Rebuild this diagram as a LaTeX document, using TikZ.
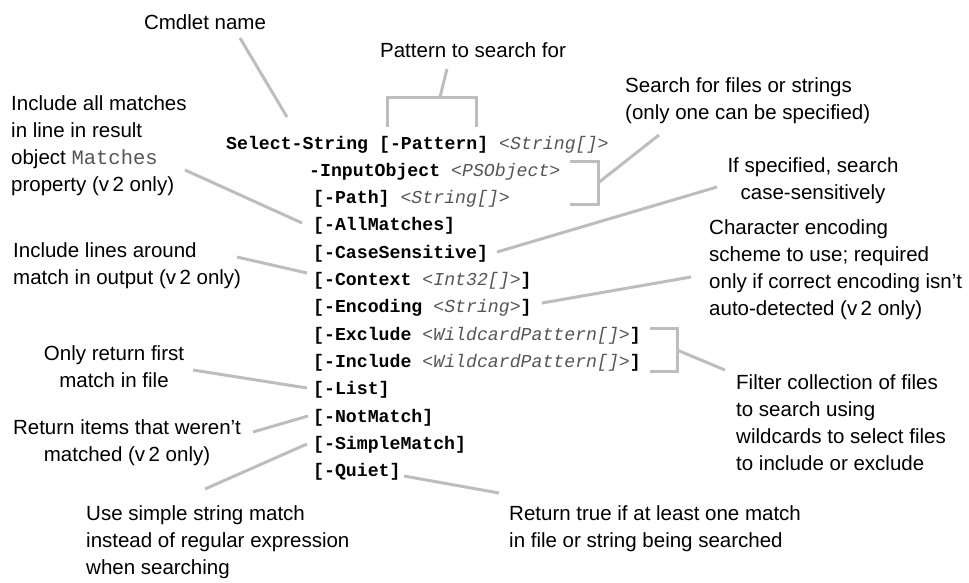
\documentclass[tikz,border=0pt]{standalone}
\usepackage{fontspec}
\setmainfont{Liberation Sans}
\newfontfamily\codefont{Liberation Mono}
\definecolor{leadgray}{HTML}{BDBDBD}
\definecolor{arggray}{HTML}{555555}
\newcommand{\argt}[1]{{\mdseries\itshape\color{arggray}#1}}
\newcommand{\inlinecode}[1]{{\codefont\color{arggray}#1}}
\tikzset{
  note/.style={font=\fontsize{20.5}{27}\selectfont, inner sep=0pt, align=left, anchor=north west},
  notec/.style={font=\fontsize{20.5}{27}\selectfont, inner sep=0pt, align=center, anchor=north},
  code/.style={font=\codefont\bfseries\fontsize{18.2}{22}\selectfont, inner sep=0pt, anchor=base west},
  lead/.style={draw=leadgray, line width=3pt},
}
\begin{document}
\begin{tikzpicture}[x=1pt,y=-1pt]
\useasboundingbox (0,0) rectangle (969,582);
% code lines
\node[code] (sel)  at (226,149) {Select-String [-Pattern] \argt{<String[]>}};
\node[code] (inp)  at (309,176.3) {-InputObject \argt{<PSObject>}};
\node[code] (path) at (313,203.6) {[-Path] \argt{<String[]>}};
\node[code] (allm) at (313,230.9) {[-AllMatches]};
\node[code] (case) at (313,258.2) {[-CaseSensitive]};
\node[code] (ctx)  at (313,285.5) {[-Context \argt{<Int32[]>}]};
\node[code] (enc)  at (313,312.8) {[-Encoding \argt{<String>}]};
\node[code] (exc)  at (313,340.1) {[-Exclude \argt{<WildcardPattern[]>}]};
\node[code] (inc)  at (313,367.4) {[-Include \argt{<WildcardPattern[]>}]};
\node[code] (list) at (313,394.7) {[-List]};
\node[code] (notm) at (313,422) {[-NotMatch]};
\node[code] (simp) at (313,449.3) {[-SimpleMatch]};
\node[code] (quiet) at (313,476.6) {[-Quiet]};
% annotations
\node[notec] (n1) at (205,14) {Cmdlet name};
\node[notec] (n2) at (473,42) {Pattern to search for};
\node[note] (n3) at (625,77) {Search for files or strings\\(only one can be specified)};
\node[note] (n4) at (11,95) {Include all matches\\in line in result\\object \inlinecode{Matches}\\property (v\,2 only)};
\node[notec] (n5) at (813,157) {If specified, search\\case-sensitively};
\node[note] (n6) at (709,219) {Character encoding\\scheme to use; required\\only if correct encoding isn’t\\auto-detected (v\,2 only)};
\node[note] (n7) at (13,242) {Include lines around\\match in output (v\,2 only)};
\node[notec] (n8) at (114,345) {Only return first\\match in file};
\node[note] (n9) at (736,374) {Filter collection of files\\to search using\\wildcards to select files\\to include or exclude};
\node[notec] (n10) at (127,419) {Return items that weren’t\\matched (v\,2 only)};
\node[note] (n11) at (86,505) {Use simple string match\\instead of regular expression\\when searching};
\node[note] (n12) at (509,505) {Return true if at least one match\\in file or string being searched};
% brackets
\coordinate (pb) at (440,97);
\coordinate (fb) at (598,183);
\coordinate (wb) at (677,350);
\draw[lead] (387,127) -- (387,97) -- (476,97) -- (476,127);
\draw[lead] (570,161) -- (598,161) -- (598,204) -- (570,204);
\draw[lead] (650,328) -- (677,328) -- (677,371) -- (650,371);
% leader ends
\coordinate (c1a) at (240,38);   \coordinate (c1b) at (287,117);
\coordinate (c2a) at (447,69);
\coordinate (c3a) at (659,135);
\coordinate (c4a) at (185,170);  \coordinate (c4b) at (302,223);
\coordinate (c5a) at (717,187);  \coordinate (c5b) at (497,252);
\coordinate (c6a) at (691,277);  \coordinate (c6b) at (542,303);
\coordinate (c7a) at (237,257);  \coordinate (c7b) at (307,273);
\coordinate (c8a) at (193,370);  \coordinate (c8b) at (307,388);
\coordinate (c9a) at (725,370);
\coordinate (c10a) at (253,432); \coordinate (c10b) at (308,416);
\coordinate (c11a) at (205,489); \coordinate (c11b) at (307,444);
\coordinate (c12a) at (499,493); \coordinate (c12b) at (404,476);
\draw[lead] (c1a) -- (c1b);
\draw[lead] (c2a) -- (pb);
\draw[lead] (c3a) -- (fb);
\draw[lead] (c4a) -- (c4b);
\draw[lead] (c5a) -- (c5b);
\draw[lead] (c6a) -- (c6b);
\draw[lead] (c7a) -- (c7b);
\draw[lead] (c8a) -- (c8b);
\draw[lead] (c9a) -- (wb);
\draw[lead] (c10a) -- (c10b);
\draw[lead] (c11a) -- (c11b);
\draw[lead] (c12a) -- (c12b);
\end{tikzpicture}
\end{document}
